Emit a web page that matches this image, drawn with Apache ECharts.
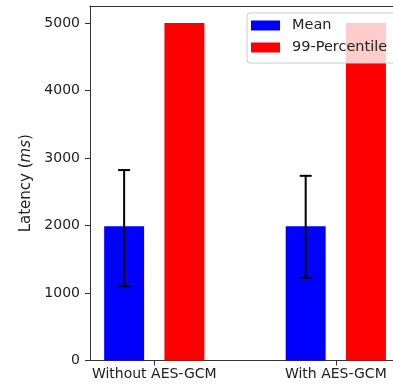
<!DOCTYPE html>
<html>
<head>
<meta charset="utf-8">
<script src="https://cdn.jsdelivr.net/npm/echarts@6/dist/echarts.min.js"></script>
<style>
  html, body { margin: 0; padding: 0; background: #fff; }
  #chart { width: 393px; height: 385px; }
</style>
</head>
<body>
<div id="chart"></div>
<script>
// chart data
const categories = ['Without AES-GCM', 'With AES-GCM']
const meanValues = [1990, 1990]
const p99Values = [5000, 5000]
const errLow = [1100, 1225]
const errHigh = [2820, 2735]
const yTicks = [0, 1000, 2000, 3000, 4000, 5000]
const xTicks = [0, 1]

const barWidth = 0.22
const barOffset = 0.166
const fontFamily = 'DejaVu Sans'
const textColor = '#222'
const spineColor = '#333'

function barRenderer(offset) {
  return function (params, api) {
    const x = api.value(0) + offset
    const p0 = api.coord([x - barWidth / 2, api.value(1)])
    const p1 = api.coord([x + barWidth / 2, 0])
    return {
      type: 'rect',
      shape: { x: p0[0], y: p0[1], width: p1[0] - p0[0], height: p1[1] - p0[1] },
      style: { fill: api.visual('color') }
    }
  }
}

function errRenderer(params, api) {
  const x = api.value(0) - barOffset
  const lo = api.coord([x, api.value(1)])
  const hi = api.coord([x, api.value(2)])
  const cap = 6
  const style = { stroke: '#000', lineWidth: 2 }
  return {
    type: 'group',
    children: [
      { type: 'line', shape: { x1: lo[0], y1: lo[1], x2: hi[0], y2: hi[1] }, style },
      { type: 'line', shape: { x1: lo[0] - cap, y1: lo[1], x2: lo[0] + cap, y2: lo[1] }, style },
      { type: 'line', shape: { x1: hi[0] - cap, y1: hi[1], x2: hi[0] + cap, y2: hi[1] }, style }
    ]
  }
}

const chart = echarts.init(document.getElementById('chart'))
chart.setOption({
  animation: false,
  textStyle: { fontFamily },
  grid: { left: 90, top: 6, bottom: 24.5, right: 0 },
  legend: {
    orient: 'vertical',
    left: 247,
    top: 13,
    icon: 'rect',
    itemWidth: 29,
    itemHeight: 10,
    itemGap: 7,
    padding: [5, 12, 8, 4],
    backgroundColor: 'rgba(255,255,255,0.8)',
    borderColor: '#ccc',
    borderWidth: 1,
    borderRadius: 3,
    textStyle: { fontFamily, fontSize: 14.5, color: textColor, padding: [0, 0, 0, 7] },
    data: ['Mean', '99-Percentile']
  },
  xAxis: [
    {
      type: 'value',
      min: -0.354,
      max: 1.315,
      splitLine: { show: false },
      axisLine: { onZero: false, lineStyle: { color: spineColor, width: 1 } },
      axisTick: { customValues: xTicks, length: 5, lineStyle: { color: spineColor } },
      axisLabel: {
        customValues: xTicks,
        formatter: v => categories[Math.round(v)],
        fontSize: 14,
        color: textColor,
        margin: 7
      }
    },
    {
      // top spine
      type: 'value',
      position: 'top',
      min: -0.354,
      max: 1.315,
      splitLine: { show: false },
      axisLine: { onZero: false, lineStyle: { color: spineColor, width: 1 } },
      axisTick: { show: false },
      axisLabel: { show: false }
    }
  ],
  yAxis: {
    type: 'value',
    min: 0,
    max: 5250,
    name: '{n|Latency (}{i|ms}{n|)}',
    nameLocation: 'middle',
    nameGap: 55,
    nameTextStyle: {
      rich: {
        n: { fontFamily, fontSize: 15, color: textColor },
        i: { fontFamily, fontSize: 15, color: textColor, fontStyle: 'italic' }
      }
    },
    splitLine: { show: false },
    axisLine: { show: true, onZero: false, lineStyle: { color: spineColor, width: 1 } },
    axisTick: { show: true, customValues: yTicks, length: 5, lineStyle: { color: spineColor } },
    axisLabel: {
      customValues: yTicks,
      formatter: v => String(v),
      fontSize: 14,
      color: textColor,
      margin: 10
    }
  },
  series: [
    {
      name: 'Mean',
      type: 'custom',
      itemStyle: { color: '#0000ff' },
      renderItem: barRenderer(-barOffset),
      data: meanValues.map((v, i) => [i, v]),
      z: 2
    },
    {
      name: '99-Percentile',
      type: 'custom',
      itemStyle: { color: '#ff0000' },
      renderItem: barRenderer(barOffset),
      data: p99Values.map((v, i) => [i, v]),
      z: 2
    },
    {
      name: 'err',
      type: 'custom',
      renderItem: errRenderer,
      data: errLow.map((v, i) => [i, v, errHigh[i]]),
      z: 3
    }
  ]
})
</script>
</body>
</html>
